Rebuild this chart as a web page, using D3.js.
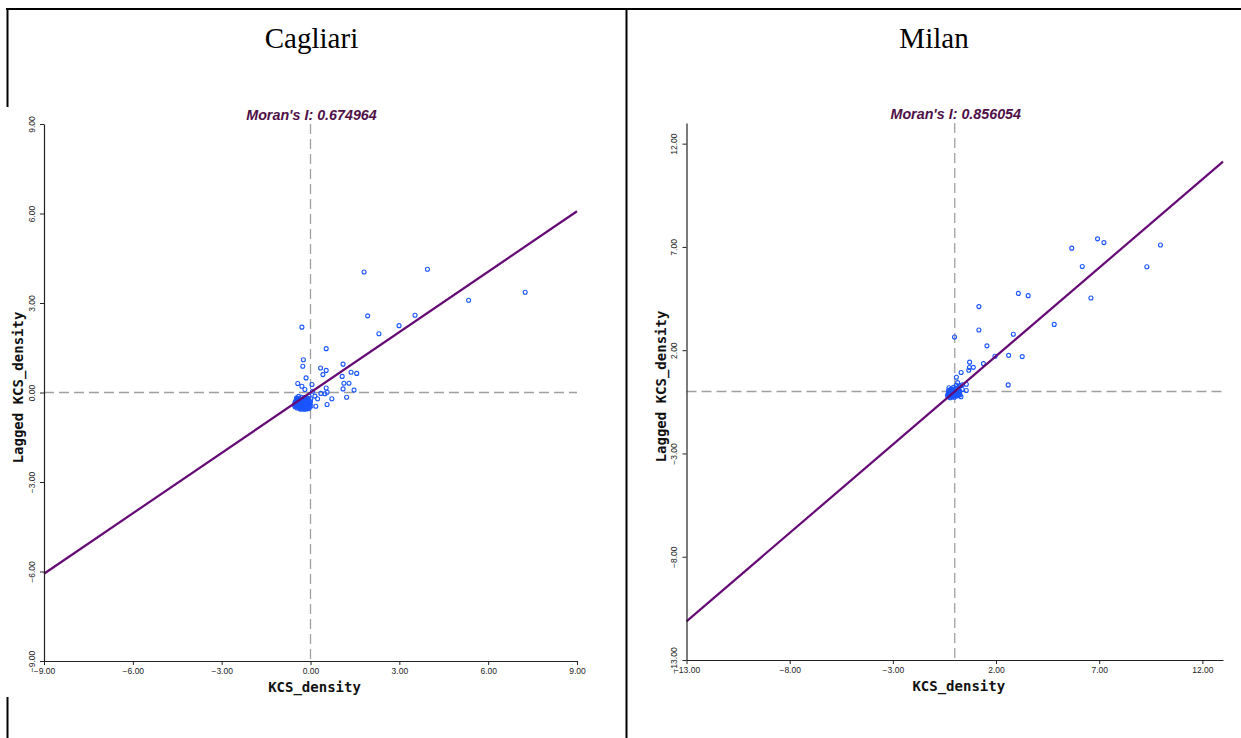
<!DOCTYPE html>
<html>
<head>
<meta charset="utf-8">
<script src="https://cdn.jsdelivr.net/npm/d3@7"></script>
<style>
  body { margin: 0; background: #fff; }
  svg { display: block; }
</style>
</head>
<body>
<svg id="chart" width="1241" height="738"></svg>
<script>
// Moran scatter data (standardised KCS_density vs its spatial lag).
const cagliariKcs = [
  1.81, 3.95, 7.25, 5.34, 1.93, 3.53, 2.99, 2.31, -0.29, 0.53, -0.24, -0.26, 1.10, 0.34, 0.53,
  0.42, 1.37, 1.56, 1.07, -0.15, -0.43, -0.29, 0.05, 1.13, 1.30, 1.10, 1.47, 0.53, -0.19, 0.07,
  0.49, 0.56, 0.35, 0.72, 1.22, 0.56, 0.18, 0.24, 0.15, -0.05,
  -0.52, -0.50, -0.49, -0.47, -0.45, -0.44, -0.43, -0.41, -0.40, -0.38, -0.37, -0.36, -0.34, -0.33,
  -0.32, -0.31, -0.29, -0.28, -0.27, -0.26, -0.24, -0.23, -0.22, -0.20, -0.19, -0.18, -0.17, -0.15,
  -0.14, -0.13, -0.11, -0.10, -0.08, -0.07, -0.05, -0.04, -0.02, 0.00, 0.01, -0.46, -0.35, -0.21,
  -0.06, -0.53,
  -0.54, -0.48, -0.42, -0.39, -0.33, -0.30, -0.25, -0.21, -0.16, -0.12, -0.09, -0.03, 0.02, -0.51,
  -0.44, -0.37, -0.28, -0.18, -0.11, -0.04, -0.49, -0.40, -0.31, -0.23, -0.14, -0.07
];
const cagliariLag = [
  4.04, 4.13, 3.36, 3.09, 2.57, 2.59, 2.24, 1.97, 2.19, 1.47, 1.10, 0.88, 0.95, 0.82, 0.74,
  0.60, 0.68, 0.64, 0.54, 0.49, 0.30, 0.21, 0.27, 0.31, 0.31, 0.12, 0.08, 0.15, 0.10, 0.04,
  -0.04, 0.01, -0.03, -0.21, -0.16, -0.40, -0.46, -0.21, -0.12, -0.12,
  -0.48, -0.38, -0.28, -0.18, -0.52, -0.42, -0.33, -0.22, -0.13, -0.50, -0.40, -0.30, -0.46, -0.35,
  -0.25, -0.16, -0.53, -0.43, -0.31, -0.21, -0.48, -0.38, -0.27, -0.17, -0.52, -0.44, -0.34, -0.24,
  -0.49, -0.39, -0.29, -0.19, -0.47, -0.36, -0.26, -0.51, -0.41, -0.31, -0.21, -0.24, -0.55, -0.56,
  -0.54, -0.35,
  -0.43, -0.33, -0.45, -0.26, -0.39, -0.55, -0.44, -0.32, -0.45, -0.25, -0.43, -0.37, -0.45, -0.30,
  -0.20, -0.45, -0.37, -0.29, -0.53, -0.33, -0.41, -0.26, -0.49, -0.33, -0.55, -0.42
];

const milanKcs = [
  6.92, 7.23, 9.97, 5.67, 6.18, 9.31, 3.08, 3.56, 6.60, 1.17, 4.82, 1.17, -0.01, 2.84, 1.56,
  2.61, 3.27, 1.95, 1.39, 0.72, 0.71, 0.90, 0.68, 0.31, 2.59, 0.08, 0.14, 0.56, 0.56, 0.37, 0.25,
  -0.33, -0.31, -0.30, -0.28, -0.22, -0.20, -0.18, -0.16, -0.12, -0.10, -0.08, -0.06, -0.02, 0.00,
  0.03, 0.05, 0.09, 0.12, 0.15, 0.19, 0.22, 0.25, 0.30, 0.36, -0.25, 0.08, 0.28,
  -0.35, -0.26, -0.14, -0.04, 0.06, 0.17, -0.29, -0.21, -0.07, 0.11, 0.20, -0.17
];
const milanLag = [
  7.39, 7.21, 7.09, 6.94, 6.05, 6.04, 4.75, 4.64, 4.53, 4.11, 3.25, 2.98, 2.64, 2.77, 2.21,
  1.75, 1.69, 1.71, 1.35, 1.42, 1.16, 1.17, 1.03, 0.92, 0.32, 0.69, 0.43, 0.35, 0.05, 0.33, -0.16,
  -0.25, -0.10, 0.05, 0.18, -0.30, -0.16, -0.02, 0.12, -0.26, -0.11, 0.04, 0.20, -0.28, -0.14,
  0.00, 0.15, -0.22, -0.07, 0.08, 0.22, -0.12, 0.02, -0.25, 0.10, -0.05, 0.30, 0.28,
  -0.18, -0.20, -0.21, -0.20, -0.17, -0.18, -0.05, 0.09, 0.11, -0.15, -0.03, 0.07
];

const cagliariTicks = [-9, -6, -3, 0, 3, 6, 9];
const milanTicks = [-13, -8, -3, 2, 7, 12];

const panels = [
  {
    city: "Cagliari", moran: 0.674964, xs: cagliariKcs, ys: cagliariLag,
    domain: [-9, 9], ticks: cagliariTicks,
    left: 44, right: 577, top: 124, bottom: 661, cityX: 311.5
  },
  {
    city: "Milan", moran: 0.856054, xs: milanKcs, ys: milanLag,
    domain: [-13, 13], ticks: milanTicks,
    left: 686.5, right: 1223, top: 123, bottom: 660, cityX: 934
  }
];

const svg = d3.select("#chart");

// table borders around the two cells
svg.append("line").attr("x1", 6).attr("x2", 1241).attr("y1", 9).attr("y2", 9)
  .attr("stroke", "#000").attr("stroke-width", 2);
svg.append("line").attr("x1", 7.5).attr("x2", 7.5).attr("y1", 8).attr("y2", 107)
  .attr("stroke", "#000").attr("stroke-width", 2);
svg.append("line").attr("x1", 7.5).attr("x2", 7.5).attr("y1", 697).attr("y2", 738)
  .attr("stroke", "#000").attr("stroke-width", 2);
svg.append("line").attr("x1", 626.5).attr("x2", 626.5).attr("y1", 8).attr("y2", 738)
  .attr("stroke", "#000").attr("stroke-width", 2);

const fmt = d3.format(".2f");

panels.forEach(p => {
  const x = d3.scaleLinear().domain(p.domain).range([p.left, p.right]);
  const y = d3.scaleLinear().domain(p.domain).range([p.bottom, p.top]);
  const g = svg.append("g");
  const midX = (p.left + p.right) / 2;
  const midY = (p.top + p.bottom) / 2;

  // city heading
  g.append("text")
    .attr("x", p.cityX).attr("y", 48)
    .attr("text-anchor", "middle")
    .style("font-family", "'Liberation Serif', 'Times New Roman', serif")
    .style("font-size", "29px")
    .attr("fill", "#000")
    .text(p.city);

  // Moran's I title
  g.append("text")
    .attr("x", x(0) + 1).attr("y", p.top - 4)
    .attr("text-anchor", "middle")
    .style("font-family", "'Liberation Sans', Arial, sans-serif")
    .style("font-size", "14.3px")
    .style("font-weight", "bold")
    .style("font-style", "italic")
    .attr("fill", "#4f1048")
    .text("Moran's I: " + p.moran.toFixed(6));

  // zero reference lines
  g.append("line")
    .attr("x1", x(p.domain[0])).attr("x2", x(p.domain[1]))
    .attr("y1", y(0)).attr("y2", y(0))
    .attr("stroke", "#a0a0a0").attr("stroke-width", 1.3)
    .attr("stroke-dasharray", "10,5");
  g.append("line")
    .attr("x1", x(0)).attr("x2", x(0))
    .attr("y1", y(p.domain[1])).attr("y2", y(p.domain[0]))
    .attr("stroke", "#a0a0a0").attr("stroke-width", 1.3)
    .attr("stroke-dasharray", "10,5");

  // points
  const pts = p.xs.map((v, i) => [v, p.ys[i]]);
  g.append("g").selectAll("circle")
    .data(pts)
    .join("circle")
    .attr("cx", d => x(d[0]))
    .attr("cy", d => y(d[1]))
    .attr("r", 2)
    .attr("fill", "none")
    .attr("stroke", "#1a55ff")
    .attr("stroke-width", 1.1);

  // regression line, slope = Moran's I
  const line = d3.line().x(d => x(d[0])).y(d => y(d[1]));
  g.append("path")
    .datum(p.domain.map(v => [v, v * p.moran]))
    .attr("d", line)
    .attr("fill", "none")
    .attr("stroke", "#650a75")
    .attr("stroke-width", 2.2);

  // axes
  const xAxis = g.append("g")
    .attr("transform", `translate(0,${p.bottom})`)
    .call(d3.axisBottom(x).tickValues(p.ticks).tickFormat(fmt).tickSize(4).tickSizeOuter(0));
  const yAxis = g.append("g")
    .attr("transform", `translate(${p.left},0)`)
    .call(d3.axisLeft(y).tickValues(p.ticks).tickFormat(fmt).tickSize(4).tickSizeOuter(0));

  [xAxis, yAxis].forEach(a => {
    a.select(".domain").attr("stroke", "#222").attr("stroke-width", 1.2);
    a.selectAll(".tick line").attr("stroke", "#222");
    a.selectAll(".tick text")
      .attr("fill", "#222")
      .style("font-family", "'Liberation Sans', Arial, sans-serif")
      .style("font-size", "8.5px");
  });
  yAxis.selectAll(".tick text")
    .attr("transform", "rotate(-90)")
    .attr("x", 0).attr("y", -12).attr("dy", "0.35em")
    .attr("text-anchor", "middle");

  // axis titles
  g.append("text")
    .attr("x", midX + 4).attr("y", p.bottom + 31)
    .attr("text-anchor", "middle")
    .style("font-family", "'DejaVu Sans Mono', monospace")
    .style("font-size", "14px")
    .style("font-weight", "bold")
    .attr("fill", "#111")
    .text("KCS_density");
  g.append("text")
    .attr("transform", `translate(${p.left - 21},${midY - 5}) rotate(-90)`)
    .attr("text-anchor", "middle")
    .style("font-family", "'DejaVu Sans Mono', monospace")
    .style("font-size", "14px")
    .style("font-weight", "bold")
    .attr("fill", "#111")
    .text("Lagged KCS_density");
});
</script>
</body>
</html>
